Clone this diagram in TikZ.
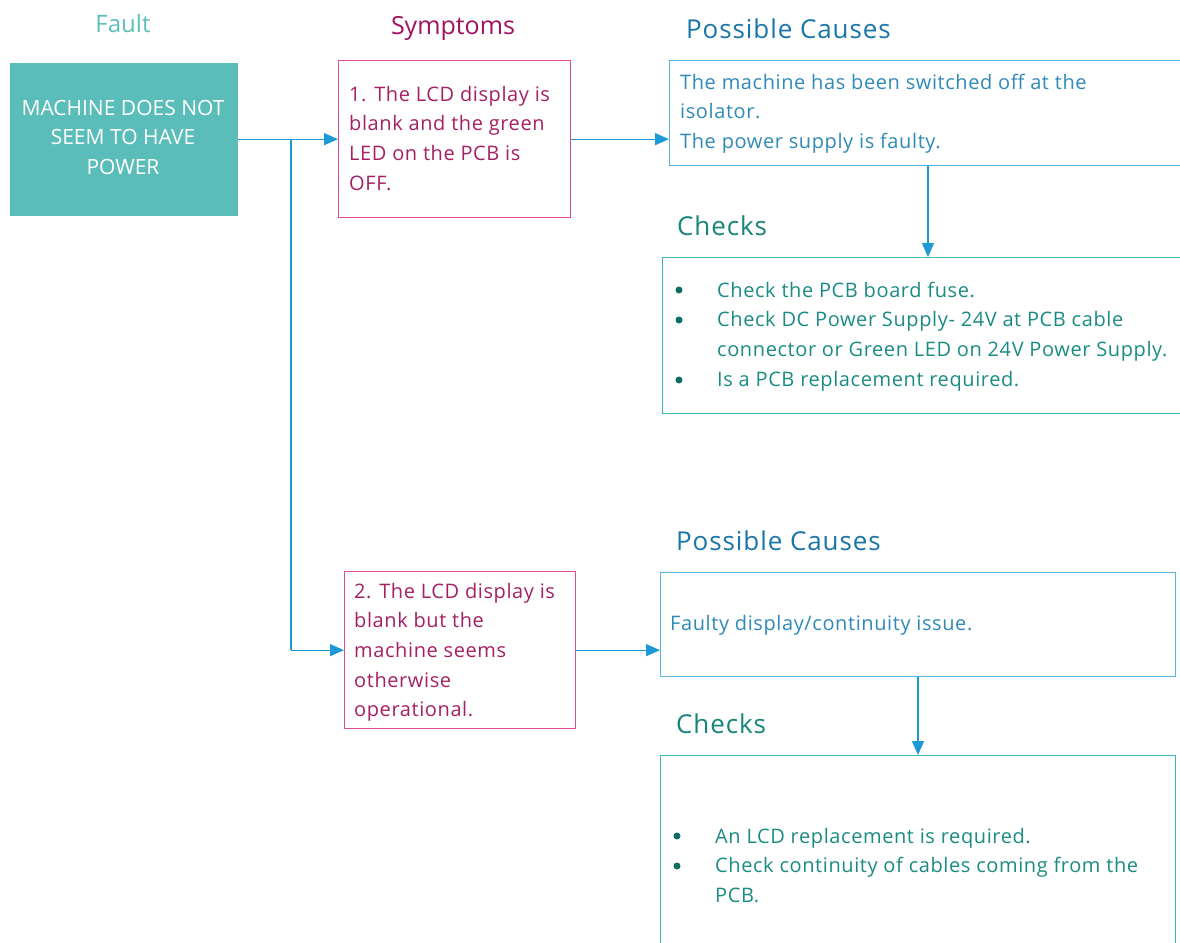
\documentclass[tikz,border=0pt]{standalone}
\usepackage{fontspec}
\setmainfont{Open Sans}
\newfontfamily\bodyfont[LetterSpace=3]{Open Sans}
\newfontfamily\headfont[LetterSpace=3.5]{Open Sans}
\usetikzlibrary{arrows.meta}
\definecolor{faultfill}{HTML}{5BBDB9}
\definecolor{faulttitle}{HTML}{5BC0BA}
\definecolor{symtitle}{HTML}{A0125F}
\definecolor{symborder}{HTML}{E54A94}
\definecolor{symtext}{HTML}{A52064}
\definecolor{pctitle}{HTML}{1A75A8}
\definecolor{pcborder}{HTML}{55B4E0}
\definecolor{pctext}{HTML}{2F8AB8}
\definecolor{cktitle}{HTML}{17857A}
\definecolor{ckborder}{HTML}{3AB8B4}
\definecolor{cktext}{HTML}{1A8C84}
\definecolor{bulletc}{HTML}{0F6E64}
\definecolor{arrowc}{HTML}{1B9AD7}
\newcommand\mlL[1]{\vtop{\baselineskip=29.7pt\lineskiplimit=-100pt\halign{##\hfil\cr#1\crcr}}}
\newcommand\mlC[1]{\vtop{\baselineskip=29.6pt\lineskiplimit=-100pt\halign{\hfil##\hfil\cr#1\crcr}}}
\begin{document}
\begin{tikzpicture}[x=1pt,y=-1pt,
  box/.style={draw, line width=1.3pt, rectangle, inner sep=0, anchor=north west},
  txt/.style={anchor=base west, inner sep=0, font=\bodyfont\fontsize{20}{29.7}\selectfont},
  title/.style={anchor=base west, inner sep=0, font=\fontsize{25}{30}\selectfont},
  htitle/.style={anchor=base west, inner sep=0, font=\headfont\fontsize{26}{30}\selectfont},
  arr/.style={draw=arrowc, line width=1.3pt, -{Triangle[length=14pt,width=12pt]}},
  line/.style={draw=arrowc, line width=1.3pt},
  bul/.style={circle, fill=bulletc, inner sep=0, minimum size=7pt}]
\useasboundingbox (0,0) rectangle (1180,942);
\clip (0,0) rectangle (1180,942);
\fill[white] (0,0) rectangle (1180,942);
% titles
\node[title, anchor=base, text=faulttitle, font=\fontsize{24}{30}\selectfont] (tfault) at (123,33) {Fault};
\node[title, anchor=base, text=symtitle] (tsym) at (453,35) {Symptoms};
\node[htitle, text=pctitle] (tpc1) at (686,38) {Possible Causes};
\node[htitle, text=cktitle] (tck1) at (677,235) {Checks};
\node[htitle, text=pctitle] (tpc2) at (676,550) {Possible Causes};
\node[htitle, text=cktitle] (tck2) at (676,733) {Checks};
% boxes
\node[box, draw=none, fill=faultfill, minimum width=228pt, minimum height=153pt] (fb) at (9,62) {};
\node[box, draw=symborder, minimum width=232pt, minimum height=157pt] (b1) at (338,60) {};
\node[box, draw=symborder, minimum width=231pt, minimum height=157pt] (b2) at (344,571) {};
\node[box, draw=pcborder, minimum width=560pt, minimum height=105pt] (c1) at (669,60) {};
\node[box, draw=ckborder, minimum width=560pt, minimum height=156pt] (k1) at (662,257) {};
\node[box, draw=pcborder, minimum width=515pt, minimum height=104pt] (c2) at (660,572) {};
\node[box, draw=ckborder, minimum width=515pt, minimum height=220pt] (k2) at (660,755) {};
% texts
\node[anchor=base, inner sep=0, text=white, font=\fontsize{21}{29.6}\selectfont] (fbt) at (123,115) {\mlC{MACHINE DOES NOT\cr SEEM TO HAVE\cr POWER}};
\node[txt, text=symtext] (b1t) at (349,101) {\mlL{1. The LCD display is\cr blank and the green\cr LED on the PCB is\cr OFF.}};
\node[txt, text=symtext] (b2t) at (354,598) {\mlL{2. The LCD display is\cr blank but the\cr machine seems\cr otherwise\cr operational.}};
\node[txt, text=pctext] (c1t) at (680,89) {\mlL{The machine has been switched off at the\cr isolator.\cr The power supply is faulty.}};
\node[txt, text=pctext] (c2t) at (670,630) {Faulty display/continuity issue.};
\node[txt, text=cktext] (k1t) at (717,297) {\mlL{Check the PCB board fuse.\cr Check DC Power Supply- 24V at PCB cable\cr connector or Green LED on 24V Power Supply.\cr Is a PCB replacement required.}};
\node[txt, text=cktext] (k2t) at (715,843) {\mlL{An LCD replacement is required.\cr Check continuity of cables coming from the\cr PCB.}};
% bullets
\node[bul] (k1b1) at (679,290) {};
\node[bul] (k1b2) at (679,320) {};
\node[bul] (k1b3) at (679,380) {};
\node[bul] (k2b1) at (677,836) {};
\node[bul] (k2b2) at (677,866) {};
% connectors
\coordinate (j) at (291,138.5);
\coordinate (x1) at (928,0);
\coordinate (x2) at (918,0);
\draw[arr] (fb.east) -- (b1.west);
\draw[line] (j) -- (j |- b2.west);
\draw[arr] (j |- b2.west) -- (b2.west);
\draw[arr] (b1.east) -- (b1.east -| c1.west);
\draw[arr] (b2.east) -- (b2.east -| c2.west);
\draw[arr] (c1.south -| x1) -- (k1.north -| x1);
\draw[arr] (c2.south -| x2) -- (k2.north -| x2);
\end{tikzpicture}
\end{document}
